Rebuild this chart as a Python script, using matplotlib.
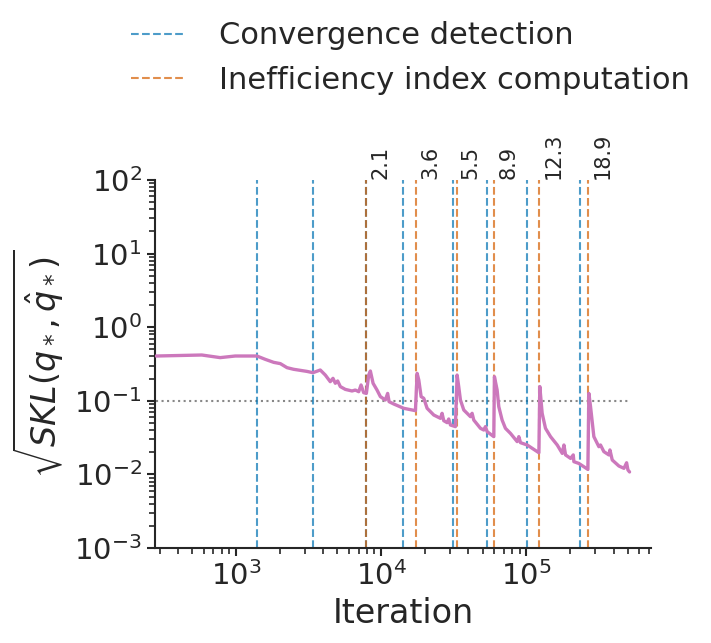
import matplotlib
matplotlib.use("Agg")
import matplotlib.pyplot as plt
import seaborn as sns

sns.set_theme(style="ticks")

# SKL curve (iteration, value)
iters = [282, 582, 779, 989, 1395, 1592, 1820, 2023, 2249, 2497, 3084, 3394,
         3812, 4128, 4467, 4665, 4840, 5023, 5240, 5670, 6307, 6650, 7015, 7280,
         7590, 7920, 8220, 8440, 8810, 9380, 9890, 10700, 11100, 11360, 12230,
         14330, 17250, 17720, 18190, 18880, 19700, 20760, 23080, 25650, 26320,
         27040, 28510, 29260, 30060, 32530, 33410, 34280, 35220, 37150, 39170,
         41290, 42390, 43520, 48400, 51030, 52380, 53800, 59800, 60400, 63050,
         64730, 68230, 71930, 77900, 86640, 88960, 91340, 101600, 122300,
         124100, 128800, 135800, 147100, 163600, 177200, 181900, 186700,
         202200, 211000, 213000, 230500, 266000, 270300, 277500, 292500,
         316700, 325000, 342700, 371200, 377400, 391600, 435300, 471500,
         491700, 502200, 515300]
skl = [0.406, 0.419, 0.386, 0.406, 0.406, 0.366, 0.333, 0.320, 0.282, 0.268,
       0.251, 0.241, 0.262, 0.224, 0.182, 0.202, 0.173, 0.186, 0.156, 0.143,
       0.136, 0.140, 0.133, 0.164, 0.129, 0.126, 0.224, 0.254, 0.173, 0.140,
       0.114, 0.1026, 0.126, 0.0973, 0.0905, 0.0791, 0.0735, 0.236, 0.192,
       0.114, 0.108, 0.0791, 0.0641, 0.0578, 0.0676, 0.0537, 0.0505, 0.0566,
       0.0469, 0.0446, 0.224, 0.156, 0.1026, 0.0750, 0.0676, 0.0609, 0.0676,
       0.0548, 0.0423, 0.0401, 0.0446, 0.0381, 0.0326, 0.213, 0.140, 0.0832,
       0.0548, 0.0423, 0.0361, 0.0279, 0.0326, 0.0270, 0.0251, 0.0197, 0.156,
       0.0676, 0.0423, 0.0326, 0.0251, 0.0193, 0.0251, 0.0184, 0.0165, 0.0184,
       0.0149, 0.0141, 0.0117, 0.126, 0.0832, 0.0326, 0.0238, 0.0251, 0.0204,
       0.0184, 0.0215, 0.0157, 0.0130, 0.0121, 0.0144, 0.0115, 0.0108]

# event positions
convergence_iters = [1403, 3412, 7930, 14250, 31540, 54100, 102000, 233000]
ineff_iters = [7930, 17400, 33200, 60100, 123000, 268000]
ineff_values = ["2.1", "3.6", "5.5", "8.9", "12.3", "18.9"]
threshold = 0.1

text_col = "#262626"
plt.rcParams.update({"text.color": text_col, "axes.labelcolor": text_col,
                     "xtick.color": text_col, "ytick.color": text_col,
                     "axes.edgecolor": text_col})

fig = plt.figure(figsize=(7.11, 6.43), dpi=100)
ax = fig.add_axes([0.218, 0.1477, 0.6976, 0.5724])

ax.plot(iters, skl, color="#cc78bc", lw=2.4, zorder=3)
ax.hlines(threshold, iters[0], iters[-1], color="#888888", linestyle=":", lw=1.5, zorder=2)

for i, xv in enumerate(convergence_iters):
    ax.axvline(xv, color="#0173b2", alpha=0.7, linestyle="--", lw=1.5,
               label="Convergence detection" if i == 0 else None)
for i, (xv, s) in enumerate(zip(ineff_iters, ineff_values)):
    ax.axvline(xv, color="#d55e00", alpha=0.7, linestyle="--", lw=1.5,
               label="Inefficiency index computation" if i == 0 else None)
    ax.annotate(s, xy=(xv, 1.0), xycoords=("data", "axes fraction"),
                xytext=(3, 1), textcoords="offset points", rotation=90,
                ha="left", va="bottom", fontsize=15)

ax.set_xscale("log")
ax.set_yscale("log")
ax.set_xlim(277, 724000)
ax.set_ylim(1e-3, 1e2)

ax.set_xlabel("Iteration", fontsize=24)
ax.set_ylabel(r"$\sqrt{SKL(q_*, \hat{q}_*)}$", fontsize=24, labelpad=6)
ax.tick_params(axis="both", which="major", labelsize=21, length=6, width=1.5)
ax.tick_params(axis="both", which="minor", length=4, width=1.2)
for sp in ["left", "bottom"]:
    ax.spines[sp].set_linewidth(1.5)
sns.despine(ax=ax)

ax.legend(loc="lower center", bbox_to_anchor=(0.516, 1.157), frameon=False,
          fontsize=22, handlelength=1.8, handletextpad=1.08, labelspacing=0.5)

fig.savefig("out.png", dpi=100)
